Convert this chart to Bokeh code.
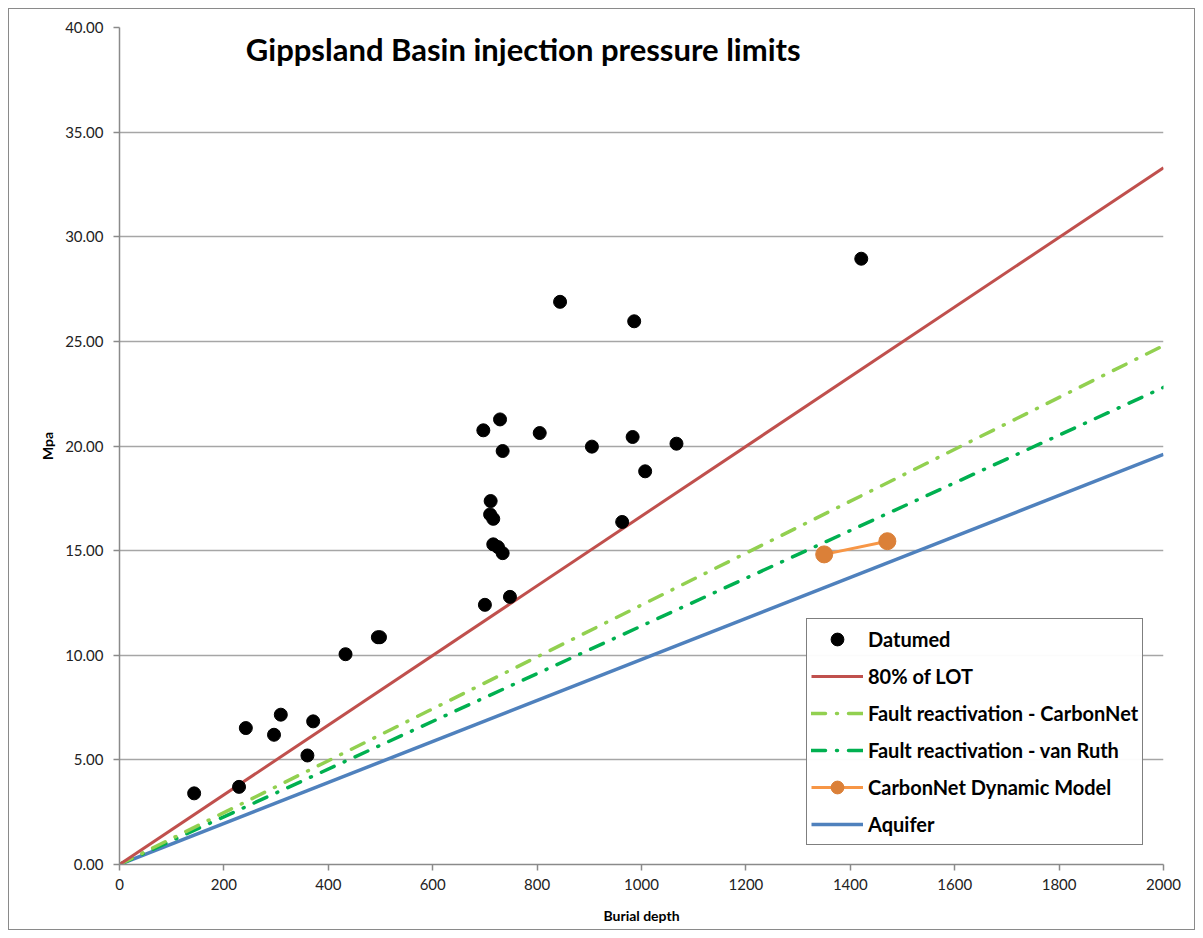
from bokeh.plotting import figure
from bokeh.models import (Range1d, SingleIntervalTicker, NumeralTickFormatter, Legend,
                          LegendItem, Label)
from bokeh.embed import file_html
from bokeh.resources import INLINE

# ---- data ----
datum_depth = [143, 229, 242, 296, 309, 360, 371, 433, 495, 499,
               697, 700, 710, 711, 716, 716, 725, 729, 734, 734,
               748, 805, 844, 905, 963, 983, 986, 1007, 1067, 1421]
datum_mpa = [3.40, 3.71, 6.52, 6.20, 7.16, 5.21, 6.84, 10.05, 10.86, 10.86,
             20.75, 12.41, 16.73, 17.37, 16.52, 15.30, 15.17, 21.27, 19.76, 14.88,
             12.79, 20.62, 26.89, 19.97, 16.37, 20.43, 25.96, 18.79, 20.11, 28.95]

line_depth = [0, 2000]
lot80 = [0, 33.3]
fault_carbonnet = [0, 24.8]
fault_vanruth = [0, 22.8]
aquifer = [0, 19.6]

dyn_depth = [1350, 1471]
dyn_mpa = [14.82, 15.45]

x_ticks_step = 200
y_ticks_step = 5

FONT = "Lato"

p = figure(width=1187, height=922, output_backend="svg", toolbar_location=None,
           x_range=Range1d(0, 2000), y_range=Range1d(0, 40),
           min_border_left=110, min_border_right=33, min_border_top=18, min_border_bottom=67)
p.styles = {"border": "1px solid #8a8a8a", "box-sizing": "border-box",
            "margin-left": "8px", "margin-top": "8px"}
p.outline_line_color = None
p.background_fill_color = "white"
p.border_fill_color = "white"

p.xgrid.grid_line_color = None
p.ygrid.grid_line_color = "#a6a6a6"
p.ygrid.grid_line_width = 1.5

p.xaxis.ticker = SingleIntervalTicker(interval=x_ticks_step)
p.yaxis.ticker = SingleIntervalTicker(interval=y_ticks_step)
p.yaxis.formatter = NumeralTickFormatter(format="0.00")
for ax in (p.xaxis, p.yaxis):
    ax.axis_line_color = "#8a8a8a"
    ax.axis_line_width = 1.5
    ax.major_tick_line_color = "#8a8a8a"
    ax.major_tick_line_width = 1.5
    ax.major_tick_out = 6
    ax.major_tick_in = 0
    ax.minor_tick_line_color = None
    ax.major_label_text_font = FONT
    ax.major_label_text_font_size = "15px"
    ax.major_label_text_color = "#222222"
    ax.axis_label_text_font = FONT
    ax.axis_label_text_font_style = "bold"
    ax.axis_label_text_font_size = "14px"
    ax.axis_label_text_color = "black"
p.xaxis.axis_label = "Burial depth"
p.yaxis.axis_label = "Mpa"
p.xaxis.major_label_standoff = 8
p.xaxis.axis_label_standoff = 14
p.yaxis.major_label_standoff = 10
p.yaxis.axis_label_standoff = 6

r_aq = p.line(line_depth, aquifer, line_color="#4f81bd", line_width=3.5)
r_vr = p.line(line_depth, fault_vanruth, line_color="#00b050", line_width=3.5,
              line_dash="14 11 1 11", line_cap="round")
r_cn = p.line(line_depth, fault_carbonnet, line_color="#92d050", line_width=3.5,
              line_dash="14 11 1 11", line_cap="round")
r_lot = p.line(line_depth, lot80, line_color="#c0504d", line_width=3)
r_dyn_l = p.line(dyn_depth, dyn_mpa, line_color="#f79646", line_width=3)
r_dyn_m = p.scatter(dyn_depth, dyn_mpa, size=17, fill_color="#db8038", line_color="#db8038")
r_dat = p.scatter(datum_depth, datum_mpa, size=13, fill_color="black", line_color="black")

p.add_layout(Label(x=242, y=38.95, text="Gippsland Basin injection pressure limits",
                   text_font=FONT, text_font_style="bold", text_font_size="31px",
                   text_color="black", text_baseline="middle"))

legend = Legend(items=[
    LegendItem(label="Datumed", renderers=[r_dat]),
    LegendItem(label="80% of LOT", renderers=[r_lot]),
    LegendItem(label="Fault reactivation - CarbonNet", renderers=[r_cn]),
    LegendItem(label="Fault reactivation - van Ruth", renderers=[r_vr]),
    LegendItem(label="CarbonNet Dynamic Model", renderers=[r_dyn_l, r_dyn_m]),
    LegendItem(label="Aquifer", renderers=[r_aq]),
], location=(687, 19))
legend.border_line_color = "black"
legend.border_line_width = 1.5
legend.background_fill_color = "white"
legend.label_text_font = FONT
legend.label_text_font_style = "bold"
legend.label_text_font_size = "20px"
legend.label_text_color = "black"
legend.glyph_width = 52
legend.glyph_height = 32
legend.label_height = 22
legend.label_standoff = 5
legend.spacing = 5
legend.padding = 4
legend.margin = 0
p.add_layout(legend, "center")

open("out.html", "w").write(file_html(p, INLINE))
